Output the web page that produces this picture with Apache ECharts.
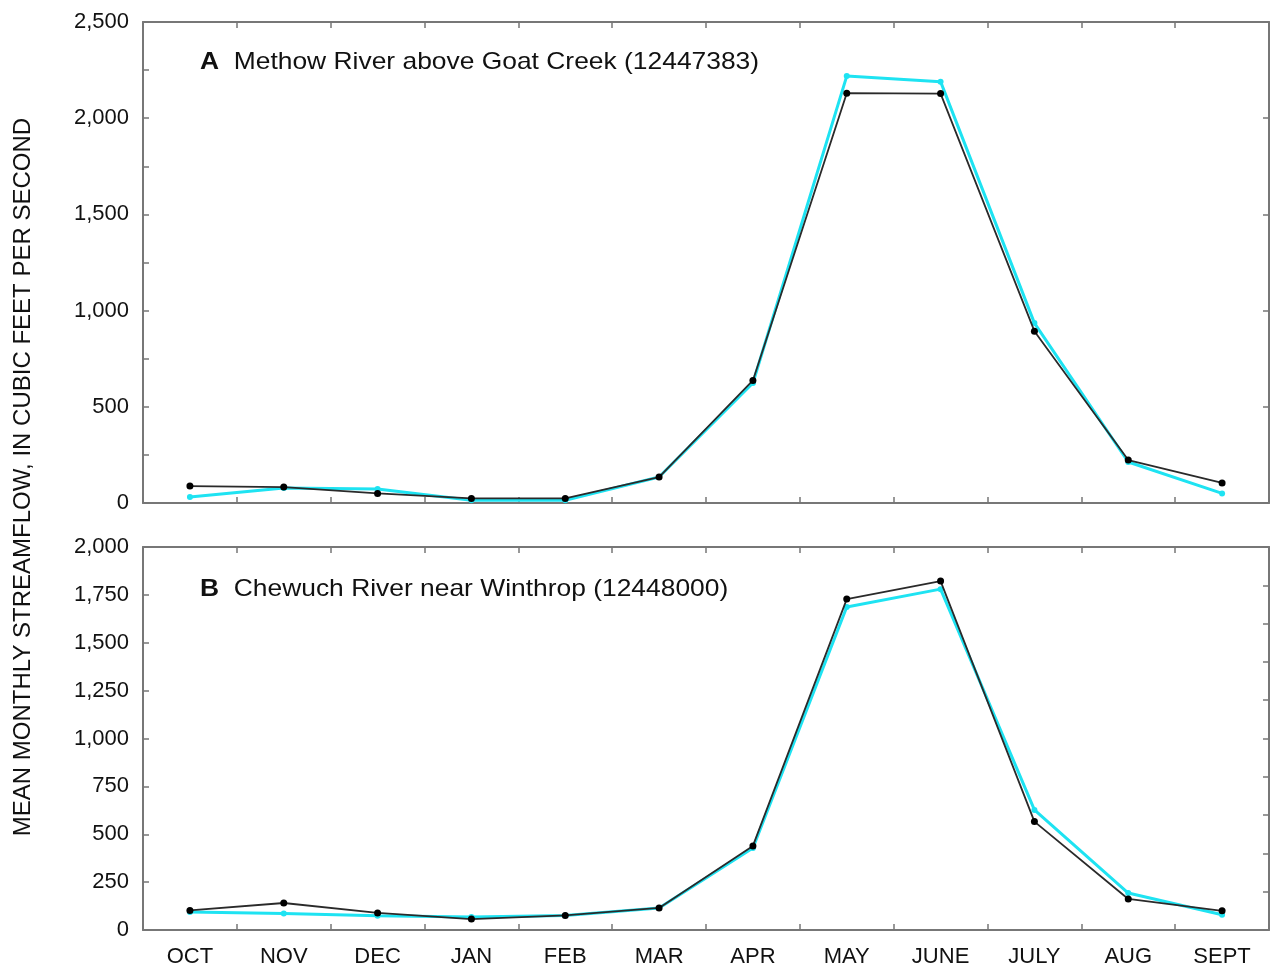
<!DOCTYPE html>
<html>
<head>
<meta charset="utf-8">
<script src="https://cdn.jsdelivr.net/npm/echarts@6/dist/echarts.min.js"></script>
<style>html,body{margin:0;padding:0;background:#fff}#c{width:1272px;height:974px}</style>
</head>
<body>
<div id="c"></div>
<script>
var months = ['OCT','NOV','DEC','JAN','FEB','MAR','APR','MAY','JUNE','JULY','AUG','SEPT'];
var methowBlack = [88, 83, 50, 24, 24, 135, 637, 2130, 2128, 893, 223, 104];
var methowCyan  = [31, 78, 73, 14, 14, 135, 624, 2219, 2190, 935, 213, 50];
var chewuchBlack = [102, 141, 89, 57, 76, 115, 439, 1728, 1822, 566, 162, 100];
var chewuchCyan  = [94, 86, 74, 68, 76, 115, 428, 1687, 1780, 627, 193, 80];
var titleA = 'Methow River above Goat Creek (12447383)';
var titleB = 'Chewuch River near Winthrop (12448000)';
var yTitle = 'MEAN MONTHLY STREAMFLOW, IN CUBIC FEET PER SECOND';

var FONT = '"Liberation Sans", Arial, sans-serif';
var AX = '#777';
var chart = echarts.init(document.getElementById('c'));

function fmt(v){ return v.toLocaleString('en-US'); }

function xAx(grid, pos){
  return {
    type:'category', data: months, gridIndex: grid, position: pos, boundaryGap: true,
    axisLine:{show:true, onZero:false, lineStyle:{color:AX, width:2}},
    axisTick:{show:true, inside:true, length:6, alignWithLabel:false, lineStyle:{color:AX, width:1.5}},
    axisLabel:{show: pos==='bottom' && grid===1, color:'#111', fontFamily:FONT, fontSize:22, margin:16},
    splitLine:{show:false}
  };
}

var yAxes = [
  {type:'value', gridIndex:0, min:0, max:2500, interval:250, position:'left',
   axisLine:{show:true, lineStyle:{color:AX, width:2}},
   axisTick:{show:true, inside:true, length:6, lineStyle:{color:AX, width:1.5}},
   axisLabel:{color:'#111', fontFamily:FONT, fontSize:22, margin:14,
     formatter:function(v){ return v % 500 === 0 ? fmt(v) : ''; }},
   splitLine:{show:false}},
  {type:'value', gridIndex:0, min:0, max:2500, interval:500, position:'right',
   axisLine:{show:true, lineStyle:{color:AX, width:2}},
   axisTick:{show:true, inside:true, length:6, lineStyle:{color:AX, width:1.5}},
   axisLabel:{show:false}, splitLine:{show:false}},
  {type:'value', gridIndex:1, min:0, max:2000, interval:250, position:'left',
   axisLine:{show:true, lineStyle:{color:AX, width:2}},
   axisTick:{show:true, inside:true, length:6, lineStyle:{color:AX, width:1.5}},
   axisLabel:{color:'#111', fontFamily:FONT, fontSize:22, margin:14, formatter:function(v){return fmt(v);}},
   splitLine:{show:false}},
  {type:'value', gridIndex:1, min:-28, max:1972, interval:200, position:'right',
   axisLine:{show:true, lineStyle:{color:AX, width:2}},
   axisTick:{show:true, inside:true, length:6, lineStyle:{color:AX, width:1.5}},
   axisLabel:{show:false}, splitLine:{show:false}}
];

function cyan(data, xi, yi){
  return {type:'line', data:data, xAxisIndex:xi, yAxisIndex:yi, symbol:'circle', symbolSize:6,
    itemStyle:{color:'#1ee3f2'}, lineStyle:{color:'#1ee3f2', width:3}, z:2, animation:false, silent:true};
}
function black(data, xi, yi){
  return {type:'line', data:data, xAxisIndex:xi, yAxisIndex:yi, symbol:'circle', symbolSize:7,
    itemStyle:{color:'#000'}, lineStyle:{color:'#2a2a2a', width:1.8}, z:3, animation:false, silent:true};
}

chart.setOption({
  backgroundColor:'#fff',
  animation:false,
  grid:[
    {left:143, top:22, width:1126, height:481},
    {left:143, top:547, width:1126, height:383}
  ],
  xAxis:[xAx(0,'bottom'), xAx(0,'top'), xAx(1,'bottom'), xAx(1,'top')],
  yAxis: yAxes,
  series:[
    cyan(methowCyan,0,0), black(methowBlack,0,0),
    cyan(chewuchCyan,2,2), black(chewuchBlack,2,2)
  ],
  graphic:[
    {type:'text', x:200, y:62, scaleX:1.1, style:{
      text:'{b|A}  ' + titleA, verticalAlign:'middle',
      rich:{b:{fontWeight:'bold', fontSize:24, fontFamily:FONT, fill:'#111'}},
      fontSize:24, fontFamily:FONT, fill:'#111'}},
    {type:'text', x:200, y:589, scaleX:1.1, style:{
      text:'{b|B}  ' + titleB, verticalAlign:'middle',
      rich:{b:{fontWeight:'bold', fontSize:24, fontFamily:FONT, fill:'#111'}},
      fontSize:24, fontFamily:FONT, fill:'#111'}},
    {type:'text', x:23, y:477, rotation:Math.PI/2, style:{
      text:yTitle, fontSize:24, fontFamily:FONT, fill:'#111', align:'center', verticalAlign:'middle'}}
  ]
});
</script>
</body>
</html>
